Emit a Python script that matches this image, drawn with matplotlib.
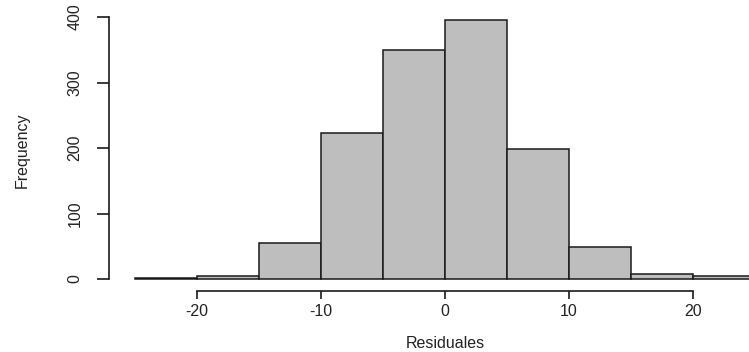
import matplotlib
matplotlib.use("Agg")
import matplotlib.pyplot as plt
import numpy as np

# Data
bin_edges = [-25, -20, -15, -10, -5, 0, 5, 10, 15, 20, 25]
counts = [1, 4, 55, 223, 349, 396, 198, 49, 7, 5]
x_ticks = [-20, -10, 0, 10, 20]
y_ticks = [0, 100, 200, 300, 400]
x_label = "Residuales"
y_label = "Frequency"

plt.rcParams['font.family'] = ['Liberation Sans', 'DejaVu Sans']
plt.rcParams['axes.unicode_minus'] = False

W, H, DPI = 749, 352, 100
fig = plt.figure(figsize=(W / DPI, H / DPI), dpi=DPI)
ax = fig.add_axes([109 / W, (H - 291) / H, 1 - 109 / W, 291 / H])

edges = np.array(bin_edges, dtype=float)
ax.bar(edges[:-1], counts, width=np.diff(edges), align='edge',
       color='#BEBEBE', edgecolor='#1a1a1a', linewidth=1.1)

ax.set_xlim(-27.1, 24.52)
ax.set_ylim(-18.3, 426)

for s in ['top', 'right']:
    ax.spines[s].set_visible(False)
ax.spines['left'].set_bounds(0, 400)
ax.spines['bottom'].set_bounds(-20, 20)
for s in ['left', 'bottom']:
    ax.spines[s].set_color('#1a1a1a')
    ax.spines[s].set_linewidth(1.2)

ax.set_xticks(x_ticks)
ax.set_yticks(y_ticks)
ax.set_yticklabels([str(v) for v in y_ticks], rotation=90, va='center')
ax.tick_params(axis='x', length=5.5, width=1.2, color='#1a1a1a', pad=4,
               labelsize=11.5, labelcolor='#222222')
ax.tick_params(axis='y', length=9, width=1.2, color='#1a1a1a', pad=10,
               labelsize=11.5, labelcolor='#222222')

fig.text(22 / W, 1 - 150 / H, y_label, rotation=90, ha='center', va='center',
         fontsize=11.5, color='#222222')
fig.text(445 / W, 1 - 343 / H, x_label, ha='center', va='center',
         fontsize=11.5, color='#222222')

fig.savefig("out.png", dpi=DPI)
